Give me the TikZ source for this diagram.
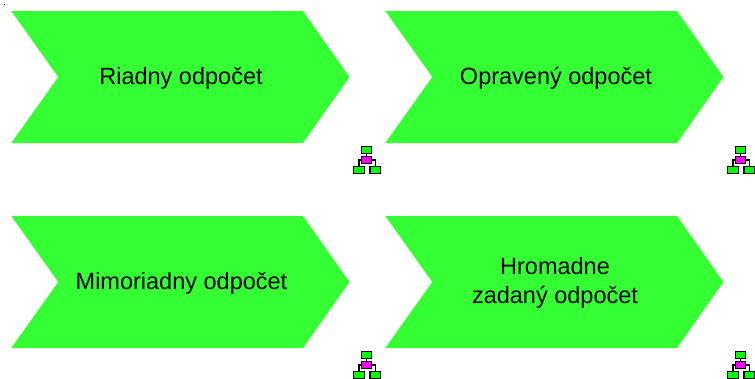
\documentclass[tikz,border=0pt]{standalone}
\usepackage{fontspec}
\setmainfont{Liberation Sans}
\definecolor{chevgreen}{RGB}{51,255,51}
\definecolor{icongreen}{RGB}{0,255,0}
\definecolor{iconpink}{RGB}{255,0,255}
\tikzset{
  chevron/.style={fill=chevgreen,draw=none},
  chevlabel/.style={font=\fontsize{23.5}{29}\selectfont,align=center,text=black,inner sep=0pt},
  iconbox/.style={draw=black,line width=1.3pt,inner sep=0pt,outer sep=0pt,minimum width=9.8pt,minimum height=6.8pt},
  iconfoot/.style={iconbox,minimum width=10.4pt,minimum height=7.2pt},
  iconlink/.style={draw=black,line width=1.1pt},
  orgicon/.pic={
    \node[iconbox,fill=icongreen] (-top) at (366.7,149.8) {};
    \node[iconbox,fill=iconpink] (-mid) at (366.7,160) {};
    \node[iconfoot,fill=icongreen] (-left) at (359,170) {};
    \node[iconfoot,fill=icongreen] (-right) at (375.3,170) {};
    \draw[iconlink] (-top) -- (-mid);
    \draw[iconlink] (-mid.west) -| (-left.north);
    \draw[iconlink] (-mid.east) -| (-right.north);
  },
  chev/.pic={
    \fill[chevron] (11.3,11) -- (303,11) -- (349.5,77) -- (303,143) -- (11.3,143) -- (58.3,77) -- cycle;
  }
}
\begin{document}
\begin{tikzpicture}[x=1pt,y=-1pt]
\useasboundingbox (0,0) rectangle (755,378);
\clip (0,0) rectangle (755,378);
\fill[black] (4,4) rectangle (5,5);
\pic at (0,0) {chev};
\pic at (374,0) {chev};
\pic at (0,205) {chev};
\pic at (374,205) {chev};
\node[chevlabel] (a) at (181,78) {Riadny odpočet};
\node[chevlabel] (b) at (556,78) {Opravený odpočet};
\node[chevlabel] (c) at (181.5,283) {Mimoriadny odpočet};
\node[chevlabel] (d) at (555,283) {Hromadne\\zadaný odpočet};
\pic (i1) at (0,0) {orgicon};
\pic (i2) at (374,0) {orgicon};
\pic (i3) at (0,205) {orgicon};
\pic (i4) at (374,205) {orgicon};
\end{tikzpicture}
\end{document}
